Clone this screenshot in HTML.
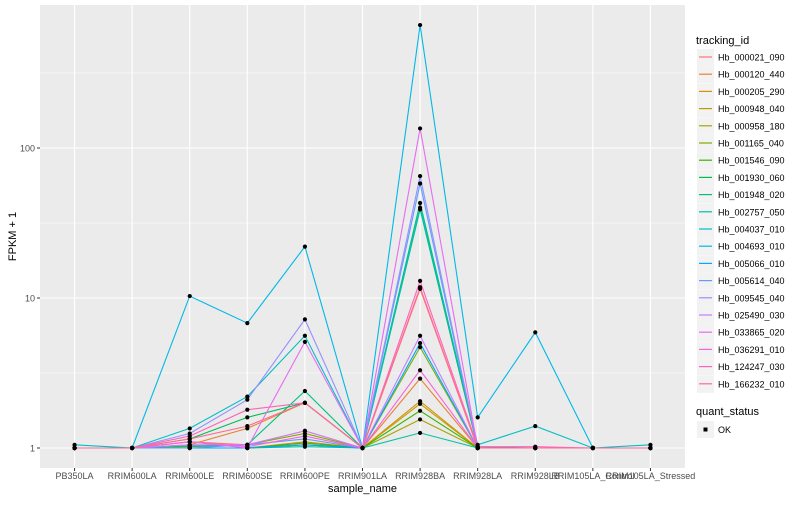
<!DOCTYPE html>
<html><head><meta charset="utf-8"><style>
body{margin:0;background:#fff;font-family:"Liberation Sans",Arial,sans-serif}
svg text{font-family:"Liberation Sans",Arial,sans-serif}
</style></head><body>
<svg id="chart" width="800" height="500" xmlns="http://www.w3.org/2000/svg"></svg>
<script>
const categories=["PB350LA","RRIM600LA","RRIM600LE","RRIM600SE","RRIM600PE","RRIM901LA","RRIM928BA","RRIM928LA","RRIM928LB","RRIM105LA_Control","RRIM105LA_Stressed"];
const seriesNames=["Hb_000021_090","Hb_000120_440","Hb_000205_290","Hb_000948_040","Hb_000958_180","Hb_001165_040","Hb_001546_090","Hb_001930_060","Hb_001948_020","Hb_002757_050","Hb_004037_010","Hb_004693_010","Hb_005066_010","Hb_005614_040","Hb_009545_040","Hb_025490_030","Hb_033865_020","Hb_036291_010","Hb_124247_030","Hb_166232_010"];
const seriesColors=["#F8766D","#EA8331","#D89000","#C09B00","#A3A500","#7CAE00","#39B600","#00BB4E","#00BF7D","#00C1A3","#00BFC4","#00B8E7","#00A9FF","#619CFF","#9590FF","#C77CFF","#E76BF3","#FA62DB","#FF62BC","#FF6C91"];
const s0=[1,1,1.1,1.05,1.3,1,11.5,1,1,1,1];
const s1=[1,1,1.05,1.35,2.0,1,2.9,1,1,1,1];
const s2=[1,1,1,1,1.1,1,2.05,1,1,1,1];
const s3=[1,1,1,1,1.05,1,1.97,1,1,1,1];
const s4=[1,1,1,1,1.05,1,1.55,1,1,1,1];
const s5=[1,1,1.02,1.05,1.25,1,4.7,1,1,1,1];
const s6=[1,1,1,1,1.08,1,1.77,1,1,1,1];
const s7=[1,1,1.15,1.6,2.0,1,39,1,1,1,1];
const s8=[1,1,1.03,1.05,2.4,1,43,1.02,1,1,1];
const s9=[1,1,1,1,1.02,1,1.26,1,1,1,1];
const s10=[1.05,1,1.35,2.2,5.6,1,40,1.05,1.4,1,1.05];
const s11=[1,1,10.3,6.8,22,1,660,1.6,5.9,1,1];
const s12=[1,1,1,1,1.05,1,5.0,1,1,1,1];
const s13=[1,1,1,1.05,1.15,1,58,1,1,1,1];
const s14=[1,1,1.25,2.1,7.2,1,65,1,1,1,1];
const s15=[1,1,1.05,1.05,1.3,1,5.6,1,1,1,1];
const s16=[1,1,1.1,1.0,5.1,1,135,1,1,1,1];
const s17=[1,1,1.1,1.02,1.2,1,3.3,1,1,1,1];
const s18=[1,1,1.2,1.8,2.0,1,13,1.02,1.02,1,1];
const s19=[1,1,1.15,1.4,2.0,1,11.8,1,1,1,1];
const seriesValues=[s0,s1,s2,s3,s4,s5,s6,s7,s8,s9,s10,s11,s12,s13,s14,s15,s16,s17,s18,s19];
const yTicks=[1,10,100];
const yMinor=[Math.sqrt(10),Math.sqrt(1000),Math.sqrt(100000)];

const NS="http://www.w3.org/2000/svg";
const svg=document.getElementById('chart');
const L=40,R=685,T=5,B=468;
const step=(R-L)/(categories.length-1+1.2);
function xPos(i){return L+step*(i+0.6);}
function yPos(v){return 448-150*Math.log10(v);}
function mk(tag,attrs,parent){const e=document.createElementNS(NS,tag);for(const k in attrs)e.setAttribute(k,attrs[k]);(parent||svg).appendChild(e);return e;}

const panel=mk('rect',{x:L,y:T,width:R-L,height:B-T,fill:'#EBEBEB'});


yMinor.forEach(v=>{const y=yPos(v);if(y>T&&y<B){const g=mk('line',{x1:L,x2:R,y1:y,y2:y,stroke:'#fff','stroke-width':0.5});

}});
yTicks.forEach(v=>{const y=yPos(v);const g=mk('line',{x1:L,x2:R,y1:y,y2:y,stroke:'#fff','stroke-width':1.1});


mk('line',{x1:L-3,x2:L,y1:y,y2:y,stroke:'#333','stroke-width':1});
const t=mk('text',{x:L-5,y:y+3.5,'text-anchor':'end','font-size':9,fill:'#4D4D4D'});t.textContent=v;

});
categories.forEach((c,i)=>{const x=xPos(i);const g=mk('line',{x1:x,x2:x,y1:T,y2:B,stroke:'#fff','stroke-width':1.1});


mk('line',{x1:x,x2:x,y1:B,y2:B+3,stroke:'#333','stroke-width':1});
const t=mk('text',{x:x,y:B+11,'text-anchor':'middle','font-size':9,fill:'#4D4D4D'});t.textContent=c;

});
seriesValues.forEach((vals,si)=>{const pts=vals.map((v,i)=>xPos(i).toFixed(1)+','+yPos(v).toFixed(1)).join(' ');
const p=mk('polyline',{points:pts,fill:'none',stroke:seriesColors[si],'stroke-width':1.1});

});
seriesValues.forEach(vals=>{vals.forEach((v,i)=>{const d=mk('circle',{cx:xPos(i),cy:yPos(v),r:2.1,fill:'#000'});

});});
const xt=mk('text',{x:(L+R)/2,y:492,'text-anchor':'middle','font-size':11,fill:'#000'});xt.textContent='sample_name';


const yt=mk('text',{x:16,y:(T+B)/2,'text-anchor':'middle','font-size':11,fill:'#000',transform:'rotate(-90 16 '+((T+B)/2)+')'});yt.textContent='FPKM + 1';


const lt=mk('text',{x:696,y:44,'font-size':11,fill:'#000'});lt.textContent='tracking_id';


seriesNames.forEach((n,i)=>{const y=57+i*17.2;
const k=mk('rect',{x:697,y:y-8,width:17,height:17,fill:'#F2F2F2'});


mk('line',{x1:699,x2:712,y1:y,y2:y,stroke:seriesColors[i],'stroke-width':1.2});
const t=mk('text',{x:718,y:y+3.5,'font-size':9,fill:'#000'});t.textContent=n;

});
const qt=mk('text',{x:696,y:415,'font-size':11,fill:'#000'});qt.textContent='quant_status';


mk('rect',{x:697,y:421,width:17,height:17,fill:'#F2F2F2'});
mk('rect',{x:703.5,y:427.5,width:4,height:4,fill:'#000'});
const ok=mk('text',{x:718,y:433,'font-size':9,fill:'#000'});ok.textContent='OK';


</script>
</body></html>
